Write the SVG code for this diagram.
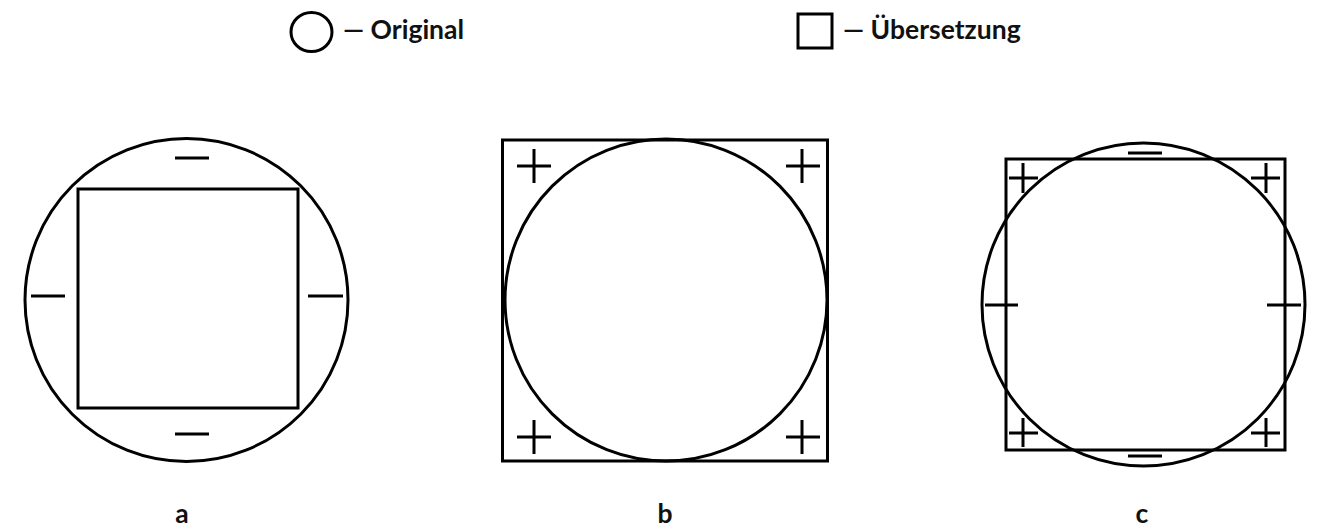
<svg xmlns="http://www.w3.org/2000/svg" width="1323" height="530" viewBox="0 0 1323 530">
<style>
.s{fill:none;stroke:#000;stroke-width:3}
.m{stroke:#000;stroke-width:3;fill:none}
.t{font-family:Lato,"Liberation Sans",sans-serif;font-weight:bold;font-size:26.5px;fill:#111}
</style>
<rect width="1323" height="530" fill="#fff"/>
<g id="legend">
<ellipse class="s" cx="311.5" cy="32" rx="20.5" ry="19.5"/>
<text class="t" x="343" y="39">— Original</text>
<rect class="s" x="798" y="14" width="34" height="34"/>
<text class="t" x="843" y="39">— Übersetzung</text>
</g>
<g id="panel-a">
<circle class="s" cx="186.5" cy="300" r="161.5"/>
<rect class="s" x="78" y="189" width="220" height="219"/>
<path class="m" d="M175 158H209M175 434H209M31 296H65M308 296H343"/>
<text class="t" x="182" y="523" text-anchor="middle">a</text>
</g>
<g id="panel-b">
<rect class="s" x="502.5" y="140" width="325" height="321"/>
<circle class="s" cx="666" cy="300" r="161"/>
<path class="m" d="M517 166H551M534 149V183M786 166H820M802 149V183M517 437H551M534 420V454M786 437H820M802 420V454"/>
<text class="t" x="665" y="523" text-anchor="middle">b</text>
</g>
<g id="panel-c">
<rect class="s" x="1006" y="159" width="279" height="291"/>
<circle class="s" cx="1143.5" cy="304.5" r="161.5"/>
<path class="m" d="M1128 153H1162M1128 456H1162M985 305H1018M1267 305H1301M1009 178H1038M1023 163V193M1251 178H1280M1266 163V193M1009 433H1038M1023 418V447M1251 433H1280M1266 418V447"/>
<text class="t" x="1142" y="523" text-anchor="middle">c</text>
</g>
</svg>
